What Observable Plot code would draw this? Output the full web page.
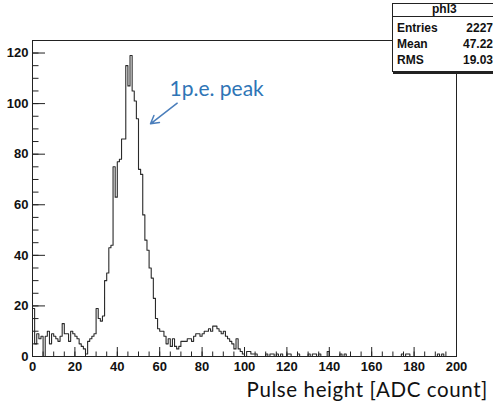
<!DOCTYPE html>
<html><head><meta charset="utf-8">
<script src="https://cdn.jsdelivr.net/npm/d3@7"></script>
<script src="https://cdn.jsdelivr.net/npm/@observablehq/plot@0.6"></script>
<style>
body{margin:0;background:#fff;}
#wrap{position:relative;width:493px;height:409px;overflow:hidden;background:#fff;}
#stats{position:absolute;left:392px;top:3px;width:102px;height:67px;background:#fff;border:1px solid #222;box-shadow:1px 2px 0 #222;}
.st{position:absolute;font-family:"Liberation Sans",Arial,sans-serif;font-weight:bold;font-size:12px;line-height:12px;color:#111;white-space:nowrap;}
#sep{position:absolute;left:392px;top:16px;width:103px;height:1px;background:#222;}
#xtitle{position:absolute;right:5px;top:377px;font-family:Lato,sans-serif;font-size:20.5px;letter-spacing:0.6px;line-height:24px;color:#111;white-space:nowrap;}
</style></head>
<body><div id="wrap"></div>
<script>
// ---- data ----
const binLow = 0, binWidth = 1;
const counts = [
 19,5,9,7,8,0,8,10,5,9,
 8,7,6,8,13,9,9,6,10,9,
 8,7,5,4,3,1,6,7,8,9,
 19,15,14,16,30,33,43,44,75,63,
 77,78,86,86,115,107,119,105,101,94,
 74,72,56,46,42,35,31,23,15,11,
 10,10,8,5,7,4,7,4,3,4,
 6,6,6,7,7,6,8,9,9,8,
 9,10,10,11,10,12,12,11,10,9,
 10,8,7,6,5,3,7,3,2,1,
 0,2,2,1,1,1,0,0,0,0,
 1,0,1,1,0,1,0,1,0,0,
 1,1,0,0,0,1,0,0,0,0,
 1,0,1,1,0,1,0,0,0,2,
 0,0,0,0,0,1,0,1,0,0,
 0,0,0,0,0,0,0,0,0,0,
 0,0,0,0,0,0,0,0,0,0,
 0,0,0,0,1,0,1,1,0,0,
 0,0,0,0,0,0,0,0,0,0,
 0,1,0,1,0,0,0,0,0,0
];
const xLabels = [0,20,40,60,80,100,120,140,160,180,200];
const yLabels = [0,20,40,60,80,100,120];
const xMinor = d3.range(0, 201, 5);
const yMinor = d3.range(0, 125, 5);
const statsTitle = "phl3";
const statsNames = ["Entries","Mean","RMS"];
const statsValues = ["2227","47.22","19.03"];
const annotText = "1p.e. peak";
const xTitle = "Pulse height [ADC count]";

// ---- layout ----
const W = 493, H = 409, mL = 32, mR = 37, mT = 40, mB = 53;
const yMax = 124.95, xMax = 200;
const pxY = (H - mT - mB) / yMax, pxX = (W - mL - mR) / xMax;

const hist = counts.map((c, i) => ({x: binLow + i * binWidth, y: c}));
hist.push({x: binLow + counts.length * binWidth, y: counts[counts.length - 1]});

const toX = px => (px - mL) / pxX, toY = py => (H - mB - py) / pxY;

const chart = Plot.plot({
  width: W, height: H,
  marginLeft: mL, marginRight: mR, marginTop: mT, marginBottom: mB,
  x: {domain: [0, xMax]},
  y: {domain: [0, yMax]},
  style: {background: "white", fontFamily: "'Liberation Sans', Arial, sans-serif", color: "#111"},
  marks: [
    Plot.line(hist, {x: "x", y: "y", curve: "step-after", stroke: "#2a2a2a", strokeWidth: 1.1}),
    Plot.ruleX(xMinor, {y1: 0, y2: 4.5 / pxY, stroke: "#222"}),
    Plot.ruleX(xLabels, {y1: 0, y2: 9 / pxY, stroke: "#222"}),
    Plot.ruleY(yMinor, {x1: 0, x2: 6.5 / pxX, stroke: "#222"}),
    Plot.ruleY(yLabels, {x1: 0, x2: 13 / pxX, stroke: "#222"}),
    Plot.axisX(xLabels, {tickSize: 0, tickPadding: 5, fontSize: 13, fontWeight: "bold", label: null}),
    Plot.axisY(yLabels, {tickSize: 0, tickPadding: 4, fontSize: 13, fontWeight: "bold", label: null}),
    Plot.frame({stroke: "#222"}),
    Plot.arrow([0], {x1: toX(176.7), y1: toY(102.7), x2: toX(150), y2: toY(123.3),
      stroke: "#4A7EBB", strokeWidth: 1.5, headLength: 9}),
    Plot.text([annotText], {x: toX(169), y: toY(88.3), text: d => d, textAnchor: "start",
      lineAnchor: "middle", fontSize: 21, fontFamily: "Lato, sans-serif", fill: "#2E75B6"})
  ]
});
const wrap = document.getElementById("wrap");
wrap.appendChild(chart);

// stats box
const box = document.createElement("div"); box.id = "stats"; wrap.appendChild(box);
const sep = document.createElement("div"); sep.id = "sep"; wrap.appendChild(sep);
function addText(t, css) { const s = document.createElement("div"); s.className = "st"; s.textContent = t; Object.assign(s.style, css); wrap.appendChild(s); }
addText(statsTitle, {left: "432px", top: "3px"});
const tops = [22, 38, 53.5];
statsNames.forEach((n, i) => addText(n, {left: "397px", top: tops[i] + "px"}));
statsValues.forEach((v, i) => addText(v, {right: "0px", top: tops[i] + "px"}));

const xt = document.createElement("div"); xt.id = "xtitle"; xt.textContent = xTitle; wrap.appendChild(xt);
</script></body></html>
